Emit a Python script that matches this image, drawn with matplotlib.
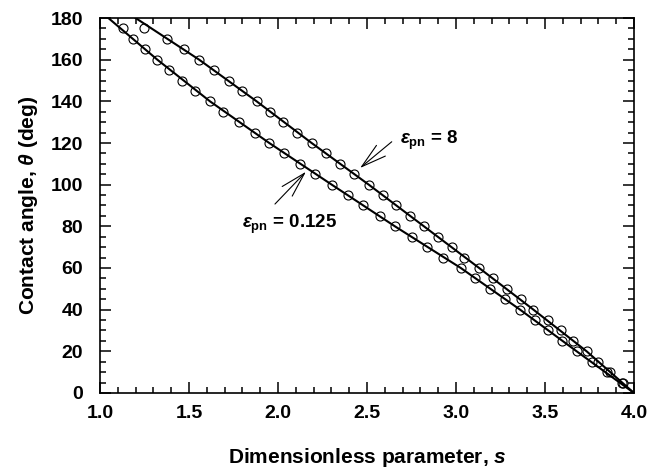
import matplotlib
matplotlib.use("Agg")
import matplotlib.pyplot as plt
from matplotlib.ticker import MultipleLocator

plt.rcParams['font.family'] = ['Liberation Sans', 'DejaVu Sans']
plt.rcParams['font.weight'] = 'bold'
plt.rcParams['axes.labelweight'] = 'bold'
plt.rcParams['mathtext.fontset'] = 'custom'
plt.rcParams['mathtext.rm'] = 'Liberation Sans:bold'
plt.rcParams['mathtext.it'] = 'Liberation Sans:italic:bold'
plt.rcParams['mathtext.bf'] = 'Liberation Sans:bold'

# contact angle levels of the circles (deg)
theta_pts = [175, 170, 165, 160, 155, 150, 145, 140, 135, 130, 125, 120,
             115, 110, 105, 100, 95, 90, 85, 80, 75, 70, 65, 60, 55, 50,
             45, 40, 35, 30, 25, 20, 15, 10, 5]

# eps_pn = 0.125 (lower curve), circles
s_lo = [1.127, 1.187, 1.253, 1.322, 1.389, 1.459, 1.534, 1.618, 1.693, 1.783,
        1.871, 1.951, 2.034, 2.124, 2.208, 2.302, 2.395, 2.480, 2.573, 2.657,
        2.751, 2.839, 2.929, 3.027, 3.107, 3.190, 3.275, 3.360, 3.444, 3.518,
        3.593, 3.678, 3.762, 3.846, 3.930]

# eps_pn = 8 (upper curve), circles
s_hi = [1.250, 1.375, 1.474, 1.557, 1.640, 1.727, 1.800, 1.880, 1.955, 2.028,
        2.108, 2.189, 2.270, 2.348, 2.427, 2.510, 2.588, 2.663, 2.742, 2.820,
        2.900, 2.975, 3.047, 3.130, 3.210, 3.288, 3.363, 3.435, 3.515, 3.589,
        3.660, 3.734, 3.800, 3.865, 3.940]

# solid curves
theta_line = [180, 160, 140, 120, 100, 80, 60, 40, 20, 0]
s_lo_line = [1.047, 1.322, 1.618, 1.951, 2.302, 2.657, 3.027, 3.360, 3.678, 4.000]
s_hi_line = [1.200, 1.557, 1.880, 2.189, 2.510, 2.820, 3.130, 3.435, 3.734, 4.000]

fig = plt.figure(figsize=(6.64, 4.68), dpi=100)
ax = fig.add_axes([0.1506, 0.1603, 0.8042, 0.8012])

ax.plot(s_lo_line, theta_line, color='black', lw=1.5, zorder=3)
ax.plot(s_hi_line, theta_line, color='black', lw=1.5, zorder=3)
ax.plot(s_lo, theta_pts, 'o', mfc='none', mec='black', ms=6.5, mew=0.8, zorder=4)
ax.plot(s_hi, theta_pts, 'o', mfc='none', mec='black', ms=6.5, mew=0.8, zorder=4)

ax.set_xlim(1.0, 4.0)
ax.set_ylim(0, 180)
ax.xaxis.set_major_locator(MultipleLocator(0.5))
ax.xaxis.set_minor_locator(MultipleLocator(0.1))
ax.yaxis.set_major_locator(MultipleLocator(20))
ax.yaxis.set_minor_locator(MultipleLocator(5))
ax.xaxis.set_major_formatter(plt.FormatStrFormatter('%.1f'))

ax.tick_params(which='both', direction='in', top=True, right=True,
               width=1.1, labelsize=14)
ax.tick_params(axis='x', pad=9)
ax.tick_params(axis='y', pad=12)
ax.tick_params(which='major', length=8)
ax.tick_params(which='minor', length=4.5)
for lab in ax.get_xticklabels() + ax.get_yticklabels():
    lab.set_fontweight('bold')
for sp in ax.spines.values():
    sp.set_linewidth(1.2)

ax.set_xlabel('Dimensionless parameter, $s$', fontsize=15, fontweight='bold', labelpad=17)
ax.set_ylabel(r'Contact angle, $\theta$ (deg)', fontsize=15, fontweight='bold', labelpad=8)

arrow = dict(arrowstyle='->, head_length=1.8, head_width=0.5', lw=0.8,
             color='black', shrinkA=0, shrinkB=0, mutation_scale=10)
ax.annotate('', xy=(2.461, 108.0), xytext=(2.639, 120.6), arrowprops=arrow)
ax.annotate('', xy=(2.157, 106.2), xytext=(1.983, 90.7), arrowprops=arrow)

ax.text(2.685, 119.5, r'$\varepsilon_{\mathbf{pn}}$ = 8', fontsize=13.5,
        fontweight='bold', va='baseline')
ax.text(1.796, 79.2, r'$\varepsilon_{\mathbf{pn}}$ = 0.125', fontsize=13.5,
        fontweight='bold', va='baseline')

fig.savefig('out.png', dpi=100)
